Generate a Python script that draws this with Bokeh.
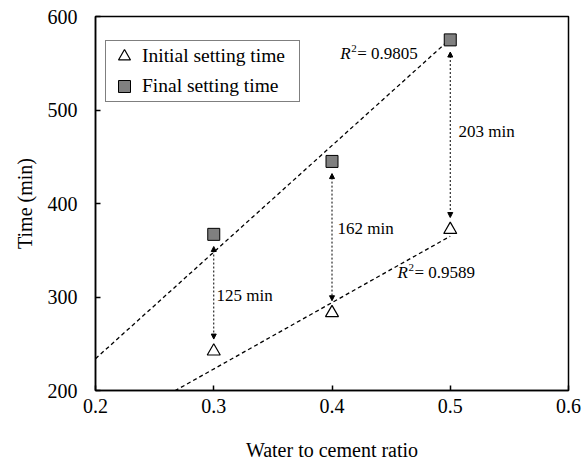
from bokeh.plotting import figure
from bokeh.models import (Range1d, FixedTicker, ColumnDataSource, Arrow, NormalHead,
                          Legend, LegendItem)
from bokeh.core.properties import value
from bokeh.embed import file_html
from bokeh.resources import INLINE

# ---- data ----
wc_ratio = [0.3, 0.4, 0.5]
initial_setting = [242, 283, 372]
final_setting = [367, 445, 575]

# trend lines as drawn (dashed)
trend_final_x = [0.2, 0.5]
trend_final_y = [234, 576]
trend_initial_x = [0.2, 0.5]
trend_initial_y = [152, 365]

# difference annotations
diff_labels = ["%d min" % (f - i) for f, i in zip(final_setting, initial_setting)]
diff_label_x = [0.3023, 0.4047, 0.507]
diff_label_y = [301.6, 373, 476.5]
arrow_gap = 13

# R^2 annotations
r2_values = ["= 0.9805", "= 0.9589"]
r2_x = [0.407, 0.4554]
r2_y = [560.4, 326]

x_ticks = [0.2, 0.3, 0.4, 0.5, 0.6]
x_tick_labels = ["0.2", "0.3", "0.4", "0.5", "0.6"]
y_ticks = [200, 300, 400, 500, 600]

FONT = "Liberation Serif"

p = figure(frame_width=473, frame_height=374,
           min_border_left=95, min_border_right=20, min_border_top=16, min_border_bottom=73,
           x_range=Range1d(0.2, 0.6), y_range=Range1d(200, 600),
           output_backend="svg", toolbar_location=None)
p.background_fill_color = "white"
p.border_fill_color = "white"
p.outline_line_color = "black"
p.outline_line_width = 1.5
p.grid.visible = False

for ax in (p.xaxis[0], p.yaxis[0]):
    ax.axis_line_color = "black"
    ax.axis_line_width = 1.5
    ax.major_tick_line_color = "black"
    ax.major_tick_line_width = 1.5
    ax.major_tick_in = 5
    ax.major_tick_out = 0
    ax.minor_tick_line_color = None
    ax.major_label_text_font = FONT
    ax.major_label_text_font_size = "20px"
    ax.major_label_text_color = "black"
    ax.axis_label_text_font = FONT
    ax.axis_label_text_font_size = "20px"
    ax.axis_label_text_font_style = "normal"
    ax.axis_label_text_color = "black"

p.xaxis.ticker = FixedTicker(ticks=x_ticks)
p.xaxis.major_label_overrides = {t: l for t, l in zip(x_ticks, x_tick_labels)}
p.yaxis.ticker = FixedTicker(ticks=y_ticks)
p.xaxis.axis_label = "Water to cement ratio"
p.yaxis.axis_label = "Time (min)"
p.xaxis.major_label_standoff = 8
p.yaxis.major_label_standoff = 18
p.xaxis.axis_label_standoff = 23
p.yaxis.axis_label_standoff = 9

# trend lines
p.line(trend_final_x, trend_final_y, line_color="black", line_width=1.3, line_dash="4 3")
p.line(trend_initial_x, trend_initial_y, line_color="black", line_width=1.3, line_dash="4 3")

# arrows
arr_src = ColumnDataSource(dict(
    x0=wc_ratio, x1=wc_ratio,
    y0=[f - arrow_gap for f in final_setting],
    y1=[i + arrow_gap for i in initial_setting]))
p.add_layout(Arrow(source=arr_src, x_start="x0", y_start="y0", x_end="x1", y_end="y1",
                   line_color="black", line_width=1, line_dash="2 2",
                   start=NormalHead(size=5, line_color="black", fill_color="black", line_width=1),
                   end=NormalHead(size=5, line_color="black", fill_color="black", line_width=1)))

# markers
r_init = p.scatter(wc_ratio, initial_setting, marker="triangle", size=13,
                   fill_color="white", line_color="black", line_width=1.2)
r_final = p.scatter(wc_ratio, final_setting, marker="square", size=12,
                    fill_color="#808080", line_color="black", line_width=1)

# difference labels
p.text(diff_label_x, diff_label_y, text=diff_labels, text_font=value(FONT),
       text_font_size="17px", text_baseline="middle", text_align="left", text_color="black")

# R^2 labels
p.text(r2_x, r2_y, text=["R", "R"], text_font=value(FONT), text_font_style="italic",
       text_font_size="17px", text_baseline="middle", text_align="left", text_color="black")
p.text(r2_x, r2_y, text=["2", "2"], text_font=value(FONT), x_offset=11, y_offset=-5,
       text_font_size="11px", text_baseline="middle", text_align="left", text_color="black")
p.text(r2_x, r2_y, text=r2_values, text_font=value(FONT), x_offset=17,
       text_font_size="17px", text_baseline="middle", text_align="left", text_color="black")

legend = Legend(items=[LegendItem(label="Initial setting time", renderers=[r_init]),
                       LegendItem(label="Final setting time", renderers=[r_final])],
                location=(10, 288), padding=0, spacing=0, margin=0,
                glyph_width=36, glyph_height=30, label_standoff=0, label_width=157,
                label_text_font=FONT, label_text_font_size="19.5px", label_text_color="black",
                border_line_color="black", border_line_width=1,
                background_fill_color="white", background_fill_alpha=1)
p.add_layout(legend)

open("out.html", "w").write(file_html(p, INLINE))
